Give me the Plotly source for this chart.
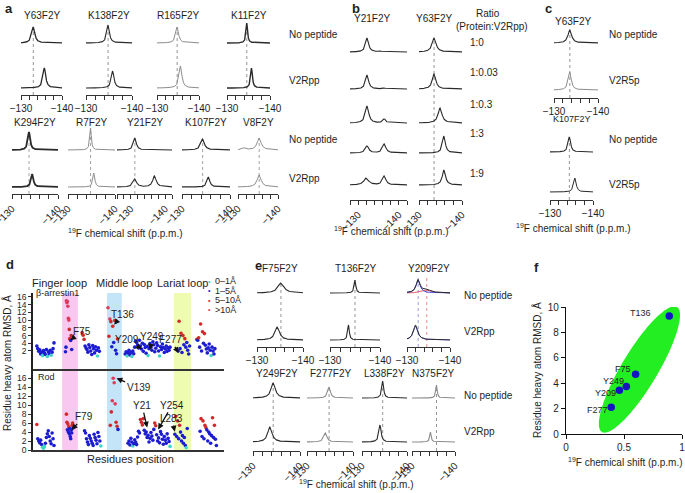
import numpy as np
import plotly.graph_objects as go

# ======================= DATA =======================
# Spectral peaks: (centre in p.p.m., peak intensity, half-width in p.p.m.)
a1_names = ["Y63F2Y", "K138F2Y", "R165F2Y", "K11F2Y"]
a1_free = [[(-133.0, 16, 0.45)], [(-134.8, 18, 0.35)], [(-134.8, 16, 0.4)], [(-134.6, 20, 0.22)]]
a1_bound = [[(-135.7, 20, 0.4)], [(-135.8, 17, 0.35)], [(-135.6, 22, 0.4)], [(-135.7, 20, 0.25)]]

a2_names = ["K294F2Y", "R7F2Y", "Y21F2Y", "K107F2Y", "V8F2Y"]
a2_free = [[(-133.7, 18, 0.3)], [(-134.8, 22, 0.2)], [(-131.2, 12, 0.5)], [(-134.3, 11, 0.45)],
           [(-135.3, 12, 0.6), (-131.5, 2, 0.6)]]
a2_bound = [[(-134.4, 13, 0.3)], [(-135.5, 14, 0.25)], [(-131.2, 8, 0.6), (-136.9, 11, 0.6)],
            [(-135.5, 10, 0.35)], [(-135.3, 12, 0.6)]]

b_ratios = ["1:0", "1:0.03", "1:0.3", "1:3", "1:9"]
b_y21 = [[(-132.2, 14, 0.45), (-135.4, 1, 0.4)], [(-132.2, 14, 0.45), (-136.4, 1, 0.4)],
         [(-132.2, 17, 0.5), (-136.4, 4, 0.4)], [(-132.2, 7, 0.5), (-136.4, 9, 0.5)],
         [(-132.0, 7, 0.7), (-136.4, 9, 0.5)]]
b_y63 = [[(-133.5, 14, 0.55)], [(-133.5, 15, 0.5)], [(-134.9, 15, 0.55)], [(-135.8, 17, 0.4)],
         [(-135.8, 15, 0.45)]]

c_names = ["Y63F2Y", "K107F2Y"]
c_free = [[(-133.6, 13, 0.5)], [(-134.5, 15, 0.35)]]
c_bound = [[(-133.6, 18, 0.4)], [(-135.8, 14, 0.35)]]

e1_names = ["F75F2Y", "T136F2Y", "Y209F2Y"]
e1_free = [[(-135.2, 10, 0.8)], [(-135.0, 13, 0.2)], [(-132.6, 13, 0.55), (-134.6, 3, 1.1)]]
e1_bound = [[(-134.4, 13, 0.6)], [(-133.7, 15, 0.2)], [(-132.0, 15, 0.6)]]
y209_fit_major = [(-132.6, 13, 0.55)]
y209_fit_minor = [(-134.6, 3, 1.1)]
y209_fit_bound = [(-132.0, 14, 0.6)]

e2_names = ["Y249F2Y", "F277F2Y", "L338F2Y", "N375F2Y"]
e2_free = [[(-134.3, 15, 0.55)], [(-134.8, 11, 0.35)], [(-134.6, 17, 0.25)], [(-135.7, 13, 0.2)]]
e2_bound = [[(-133.6, 15, 0.55)], [(-134.0, 9, 0.4)], [(-134.0, 17, 0.3)], [(-134.3, 10, 0.2)]]

# Panel d: residue RMSD clusters (start residue, residue step, RMSD values in Å)
d_top_start = [8, 68, 103, 157, 193, 304, 343]
d_top_step = [2, 1, 2, 2, 2, 2, 2]
d_top_vals = [
    [3.3, 2.6, 1.9, 2.3, 1.2, 1.7, 0.8, 2.1, 1.5, 1.1, 2.4, 0.6, 1.8, 1.3, 2.2, 0.9, 1.7, 2.6, 4.1],
    [1.8, 3.0, 15.0, 14.5, 14.8, 13.6, 10.5, 10.0, 7.6, 5.2, 5.0, 4.7, 6.0, 2.4],
    [6.8, 6.1, 5.0, 3.3, 2.8, 2.4, 1.7, 3.6, 2.9, 2.0, 1.1, 3.4, 2.6, 1.5, 3.1, 2.2, 0.7, 2.8, 1.9],
    [13.2, 5.8, 10.3, 9.6, 3.1, 8.4, 4.2, 9.9, 2.2, 1.3, 5.1],
    [1.2, 1.8, 0.7, 1.5, 2.2, 1.0, 1.6, 0.6, 2.0, 1.3, 3.0, 4.6, 4.2, 3.5, 2.8, 4.8, 3.3, 2.5, 4.0, 1.9,
     3.7, 2.9, 1.4, 3.2, 0.8, 2.6, 3.9, 3.0, 2.2, 4.4, 3.6, 1.8, 2.7, 4.1, 3.4, 2.0, 0.7, 3.1, 2.4, 3.8,
     2.9, 1.6, 2.5, 3.3, 1.9, 2.8, 2.2, 3.0],
    [2.0, 9.7, 2.6, 6.6, 1.6, 6.0, 3.6, 5.2, 3.0, 4.2, 2.2, 1.2, 3.3],
    [5.0, 4.8, 5.4, 3.0, 9.0, 2.0, 7.0, 4.0, 6.5, 3.5, 2.5, 1.5, 2.8, 3.8, 2.2, 0.8, 3.0, 2.0, 1.2, 2.6],
]
d_bot_start = [8, 70, 108, 162, 199, 297, 350]
d_bot_step = [2, 1, 2, 2, 2, 2, 2]
d_bot_vals = [
    [5.7, 2.5, 2.0, 1.6, 2.2, 1.2, 0.6, 0.4, 0.8, 1.5, 2.8, 3.6, 4.3, 3.0, 2.0, 1.4, 3.8, 2.5, 1.0],
    [8.0, 6.2, 4.5, 5.8, 4.0, 5.2, 3.6, 4.8, 3.0, 2.5, 4.4, 3.8, 5.5, 6.0, 4.9],
    [4.3, 3.8, 2.5, 1.8, 1.2, 3.2, 2.6, 2.0, 1.5, 1.0, 3.5, 2.8, 2.2, 1.4, 3.9, 3.0, 2.0, 0.9],
    [5.5, 8.5, 11.0, 16.0, 15.0, 10.3, 6.2, 5.3, 4.6],
    [1.5, 2.0, 1.1, 2.6, 1.8, 0.9, 1.4, 2.3, 1.7, 1.2, 2.9, 4.2, 3.8, 6.8, 6.2, 5.6, 7.0, 4.4, 3.6, 4.0,
     2.8, 3.3, 1.8, 2.6, 3.9, 3.1, 2.2, 4.6, 6.0, 5.4, 3.4, 2.0, 2.7, 1.6, 4.1, 3.5, 2.4, 1.3, 3.0, 2.2,
     1.5, 3.6, 2.6, 1.9, 0.8],
    [3.5, 7.5, 3.0, 6.5, 2.5, 5.5, 4.0, 2.0, 3.2, 1.5, 2.8, 1.0, 0.5, 4.8],
    [4.2, 7.0, 3.0, 6.5, 2.5, 5.5, 5.0, 4.5, 2.0, 4.0, 3.6, 1.5, 3.2, 7.2, 2.8, 5.5, 2.4, 1.0],
]
d_loops = ["Finger loop", "Middle loop", "Lariat loop"]
d_loop_ranges = [(61, 94), (155, 186), (295, 331)]
d_bins = ["0\u20131\u00c5", "1\u20135\u00c5", "5\u201310\u00c5", ">10\u00c5"]
d_top_marks = [("F75", 78, 4.8), ("T136", 170, 8.8), ("Y209", 228, 2.5), ("Y249", 245, 2.3), ("F277", 305, 1.5)]
d_bot_marks = [("V139", 175, 16.0), ("F79", 81, 4.5), ("Y21", 239, 5.0), ("Y254", 262, 4.6), ("L283", 297, 4.1)]

# Panel f
f_labels = ["T136", "F75", "Y249", "Y209", "F277"]
f_shift = [0.89, 0.60, 0.52, 0.46, 0.39]
f_rmsd = [9.3, 4.7, 3.75, 3.45, 2.1]

# ======================= LAYOUT HELPERS =======================
W, H = 685, 493
FONT = "Liberation Sans, Arial, Helvetica, sans-serif"
INK = "#1e1e1e"
fig = go.Figure()
layout = {}
annotations = []
shapes = []
ax_count = [0]


def px_x(p):
    return p / W


def px_y(p):
    return 1 - p / H


def new_axes(x0, x1, ytop, ybot, xa, ya):
    ax_count[0] += 1
    n = ax_count[0]
    s = "" if n == 1 else str(n)
    xa = dict(xa, domain=[px_x(x0), px_x(x1)], anchor="y" + s, fixedrange=True, automargin=False)
    ya = dict(ya, domain=[px_y(ybot), px_y(ytop)], anchor="x" + s, fixedrange=True, automargin=False)
    layout["xaxis" + s] = xa
    layout["yaxis" + s] = ya
    return "x" + s, "y" + s


def text(t, x, y, size=10, anchor="center", color=INK, bold=False, angle=0, vanchor="middle"):
    if bold:
        t = "<b>" + t + "</b>"
    annotations.append(dict(text=t, x=px_x(x), y=px_y(y), xref="paper", yref="paper", showarrow=False,
                            xanchor=anchor, yanchor=vanchor, textangle=angle,
                            font=dict(size=size, color=color, family=FONT)))


def lorentz(x, peaks):
    y = np.zeros_like(x)
    for c, h, w in peaks:
        y = y + h / (1.0 + ((x - c) / w) ** 2)
    return y


def spec_axes(x0, x1, ptop, paxis, xr, rotate):
    hi, lo = xr
    tv = [float(v) for v in np.arange(hi, lo - 0.5, -2)]
    tt = ["\u2212%d" % abs(v) if v in (-130.0, -140.0) else "" for v in tv]
    xa = dict(range=[hi, lo], tickvals=tv, ticktext=tt, ticks="outside", ticklen=4, tickwidth=1,
              tickcolor="#333", showline=True, linecolor="#333", linewidth=1, showgrid=False,
              zeroline=False, tickangle=-45 if rotate else 0, ticklabeloverflow="allow",
              tickfont=dict(size=10, color=INK, family=FONT))
    ya = dict(range=[0, paxis - ptop], visible=False)
    return new_axes(x0, x1, ptop, paxis, xa, ya)


def spectrum_panel(xpx, ptop, paxis, xr, rotate, rows, vlines):
    xa, ya = spec_axes(xpx[0], xpx[1], ptop, paxis, xr, rotate)
    x = np.linspace(xr[1], xr[0], 600)
    for c, ytop_px, col in vlines:
        fig.add_trace(go.Scatter(x=[c, c], y=[0, paxis - ytop_px], mode="lines",
                                 line=dict(color=col, width=0.9, dash="dot"),
                                 xaxis=xa, yaxis=ya, hoverinfo="skip", showlegend=False))
    for peaks, base, col, lw in rows:
        y = (paxis - base) + lorentz(x, peaks)
        fig.add_trace(go.Scatter(x=x, y=y, mode="lines", line=dict(color=col, width=lw),
                                 xaxis=xa, yaxis=ya, hoverinfo="skip", showlegend=False))
    return xa, ya


DARK, GREY = "#2a2a2a", "#8c8c8c"

# ======================= PANEL a =======================
text("a", 3, 8, size=13, bold=True, anchor="left")
a1_x = [(21, 62), (86, 132), (157, 199), (227, 270)]
a1_col = [DARK, DARK, GREY, DARK]
a1_lw = [1.3, 1.1, 1.0, 1.4]
for i, nm in enumerate(a1_names):
    fb, bb = 43, 88
    top_free = fb - a1_free[i][0][1]
    spectrum_panel(a1_x[i], 18, 95, (-130, -140), False,
                   [(a1_free[i], fb, a1_col[i], a1_lw[i]), (a1_bound[i], bb, a1_col[i], a1_lw[i])],
                   [(a1_free[i][0][0], top_free, "#888")])
    text(nm, (a1_x[i][0] + a1_x[i][1]) / 2, 15, size=10)
text("No peptide", 287, 35, anchor="left")
text("V2Rpp", 287, 80, anchor="left")

a2_x = [(12, 58), (68, 115), (117, 172), (182, 230), (238, 278)]
a2_xr = [(-130, -140), (-130, -140), (-126, -142), (-130, -140), (-130, -140)]
a2_col = [DARK, GREY, DARK, DARK, GREY]
a2_lw = [1.8, 1.0, 1.1, 1.2, 1.0]
for i, nm in enumerate(a2_names):
    fb, bb = 150, 187
    top_free = fb - a2_free[i][0][1]
    spectrum_panel(a2_x[i], 125, 194, a2_xr[i], True,
                   [(a2_free[i], fb, a2_col[i], a2_lw[i]), (a2_bound[i], bb, a2_col[i], a2_lw[i])],
                   [(a2_free[i][0][0], top_free, "#999")])
    text(nm, (a2_x[i][0] + a2_x[i][1]) / 2, 122, size=10)
text("No peptide", 287, 140, anchor="left")
text("V2Rpp", 287, 178, anchor="left")
text("<sup>19</sup>F chemical shift (p.p.m.)", 125, 233, size=10)

# ======================= PANEL b =======================
text("b", 350, 8, size=13, bold=True, anchor="left")
b_base = [52, 89, 123, 153, 185]
spectrum_panel((350, 407), 30, 200, (-128, -142), True,
               [(b_y21[k], b_base[k], DARK, 1.1) for k in range(5)], [])
spectrum_panel((419, 462), 30, 200, (-130, -140), True,
               [(b_y63[k], b_base[k], DARK, 1.1) for k in range(5)],
               [(b_y63[0][0][0], b_base[0] - b_y63[0][0][1], "#888")])
text("Y21F2Y", 372, 18)
text("Y63F2Y", 434, 18)
text("Ratio", 488, 14)
text("(Protein:V2Rpp)", 492, 26)
b_label_y = [42, 72, 104, 133, 173]
for k, r in enumerate(b_ratios):
    text(r, 468, b_label_y[k], anchor="left")
text("<sup>19</sup>F chemical shift (p.p.m.)", 392, 231, size=10)

# ======================= PANEL c =======================
text("c", 543, 9, size=13, bold=True, anchor="left")
c_x = [(554, 598), (550, 593)]
c_geo = [(26, 43, 90, 98), (132, 152, 192, 200)]
for i, nm in enumerate(c_names):
    top, fb, bb, axy = c_geo[i]
    spectrum_panel(c_x[i], top, axy, (-130, -140), False,
                   [(c_free[i], fb, DARK, 1.1), (c_bound[i], bb, GREY if i == 0 else DARK, 1.0)],
                   [(c_free[i][0][0], fb - c_free[i][0][1], "#888")])
text("Y63F2Y", 573, 21)
text("K107F2Y", 572, 119, size=9)
text("No peptide", 607, 35, anchor="left")
text("V2R5p", 607, 80, anchor="left")
text("No peptide", 607, 140, anchor="left")
text("V2R5p", 607, 184, anchor="left")
text("<sup>19</sup>F chemical shift (p.p.m.)", 573, 228, size=10)

# ======================= PANEL e =======================
text("e", 253, 265, size=13, bold=True, anchor="left")
e1_x = [(257, 303), (330, 380), (407, 450)]
for i, nm in enumerate(e1_names):
    fb, bb = 293, 340
    if i < 2:
        spectrum_panel(e1_x[i], 272, 347, (-130, -140), False,
                       [(e1_free[i], fb, DARK, 1.1), (e1_bound[i], bb, DARK, 1.1)],
                       [(e1_free[i][0][0], fb - e1_free[i][0][1], "#888")])
    else:
        xa, ya = spectrum_panel(e1_x[i], 272, 347, (-130, -140), False, [],
                                [(y209_fit_major[0][0], fb - 16, "#8f8fe0"),
                                 (y209_fit_minor[0][0], fb - 16, "#e08080")])
        xs = np.linspace(-140, -130, 600)
        for peaks, base, col, lw in [(y209_fit_minor, fb, "#e05050", 0.9),
                                     (y209_fit_major, fb, "#4a4ae8", 1.0),
                                     (y209_fit_bound, bb, "#6a6ae8", 1.0),
                                     (e1_free[i], fb, DARK, 1.0), (e1_bound[i], bb, DARK, 1.0)]:
            fig.add_trace(go.Scatter(x=xs, y=(347 - base) + lorentz(xs, peaks), mode="lines",
                                     line=dict(color=col, width=lw), xaxis=xa, yaxis=ya,
                                     hoverinfo="skip", showlegend=False))
    text(nm, (e1_x[i][0] + e1_x[i][1]) / 2, 268)

e2_x = [(253, 300), (307, 353), (362, 407), (412, 455)]
e2_col = [DARK, GREY, DARK, GREY]
for i, nm in enumerate(e2_names):
    fb, bb = 398, 442
    spectrum_panel(e2_x[i], 378, 451, (-130, -140), True,
                   [(e2_free[i], fb, e2_col[i], 1.1), (e2_bound[i], bb, e2_col[i], 1.1)],
                   [(e2_free[i][0][0], fb - e2_free[i][0][1], "#888")])
    text(nm, (e2_x[i][0] + e2_x[i][1]) / 2, 373)
text("No peptide", 462, 295, anchor="left")
text("V2Rpp", 462, 331, anchor="left")
text("No peptide", 462, 395, anchor="left")
text("V2Rpp", 462, 431, anchor="left")
text("<sup>19</sup>F chemical shift (p.p.m.)", 356, 484, size=10)

# ======================= PANEL d =======================
text("d", 4, 264, size=13, bold=True, anchor="left")
BIN_COL = ["#40d6c6", "#1c1cd0", "#d02a2a", "#dc3c5c"]


def bin_color(v):
    if v < 1:
        return BIN_COL[0]
    if v < 5:
        return BIN_COL[1]
    if v < 10:
        return BIN_COL[2]
    return BIN_COL[3]


def d_axes(ytop, ybot, yr, tv):
    xa = dict(range=[0, 400], showline=True, linecolor="#333", linewidth=2, ticks="",
              showticklabels=False, showgrid=False, zeroline=False)
    ya = dict(range=yr, tickvals=tv, ticktext=[str(v) for v in tv], ticks="outside", ticklen=3,
              tickcolor="#333", showline=True, linecolor="#222", linewidth=1.5, showgrid=False,
              zeroline=False, ticklabeloverflow="allow", tickfont=dict(size=8.5, color=INK, family=FONT))
    return new_axes(33, 224, ytop, ybot, xa, ya)


dxt, dyt = d_axes(293, 369, [-2.67, 17.03], list(range(2, 17, 2)))
dxb, dyb = d_axes(369, 450, [0, 18.08], list(range(0, 17, 2)))

band_cols = ["rgba(248,190,238,0.85)", "rgba(190,226,246,0.9)", "rgba(236,252,170,0.9)"]
for (r0, r1), col in zip(d_loop_ranges, band_cols):
    shapes.append(dict(type="rect", xref=dxt, yref="paper", x0=r0, x1=r1, y0=px_y(450), y1=px_y(293),
                       fillcolor=col, line=dict(width=0), layer="below"))

for starts, steps, vals, xa, ya in [(d_top_start, d_top_step, d_top_vals, dxt, dyt),
                                    (d_bot_start, d_bot_step, d_bot_vals, dxb, dyb)]:
    rx, ry, rc = [], [], []
    for s, st, vv in zip(starts, steps, vals):
        for k, v in enumerate(vv):
            rx.append(s + st * k)
            ry.append(v)
            rc.append(bin_color(v))
    fig.add_trace(go.Scatter(x=rx, y=ry, mode="markers", marker=dict(size=3.6, color=rc),
                             xaxis=xa, yaxis=ya, hoverinfo="skip", showlegend=False, cliponaxis=False))

top_off = [(12, -9), (8, -10), (-15, -10), (2, -13), (-8, -13)]
bot_off = [(22, 9), (12, -13), (-5, -22), (14, -24), (-3, -13)]
for marks, offs, xa, ya in [(d_top_marks, top_off, dxt, dyt), (d_bot_marks, bot_off, dxb, dyb)]:
    for (lab, r, v), (ox, oy) in zip(marks, offs):
        annotations.append(dict(text=lab, x=r, y=v, xref=xa, yref=ya, showarrow=True, ax=ox, ay=oy,
                                arrowhead=2, arrowsize=0.9, arrowwidth=1.3, arrowcolor="#111",
                                standoff=0, font=dict(size=10, color=INK, family=FONT)))

text("Finger loop", 59, 283, size=11)
text("Middle loop", 124, 283, size=11)
text("Lariat loop", 182, 283, size=11)
text("\u03b2-arrestin1", 57, 293, size=9)
text("Rod", 46, 377, size=9)
leg_y = [281, 290.5, 300, 309.5]
for k, lab in enumerate(d_bins):
    text("\u2022", 209, leg_y[k], size=7, color=BIN_COL[k])
    text(lab, 213, leg_y[k], size=9, anchor="left")
text("Residues position", 130, 459, size=11)
text("Residue heavy atom RMSD, \u00c5", 7, 363, size=10, angle=-90)

# ======================= PANEL f =======================
text("f", 532, 267, size=13, bold=True, anchor="left")
fxa = dict(range=[0, 1], tickvals=[0, 0.5, 1], ticktext=["0", "0.5", "1"], ticks="outside", ticklen=4,
           tickcolor="#111", showline=True, linecolor="#111", linewidth=1.3, showgrid=False,
           zeroline=False, ticklabeloverflow="allow", tickfont=dict(size=10, color=INK, family=FONT))
fya = dict(range=[0, 10], tickvals=list(range(0, 11, 2)), ticks="outside", ticklen=4, tickcolor="#111",
           showline=True, linecolor="#111", linewidth=1.3, showgrid=False, zeroline=False,
           ticklabeloverflow="allow", tickfont=dict(size=10, color=INK, family=FONT))
fx, fy = new_axes(566, 682, 307, 434, fxa, fya)

# green confidence ellipse (shape)
ell_c = (0.633, 5.08)
ell_major = (0.3235, 4.92)
ell_minor = (0.133, -0.73)
t = np.linspace(0, 2 * np.pi, 120)
ex = ell_c[0] + ell_major[0] * np.cos(t) + ell_minor[0] * np.sin(t)
ey = ell_c[1] + ell_major[1] * np.cos(t) + ell_minor[1] * np.sin(t)
path = "M " + " L ".join("%.4f,%.4f" % (a, b) for a, b in zip(ex, ey)) + " Z"
shapes.append(dict(type="path", path=path, xref=fx, yref=fy, fillcolor="#22ee22",
                   line=dict(width=0), layer="below"))

fig.add_trace(go.Scatter(x=f_shift, y=f_rmsd, mode="markers", marker=dict(size=7.5, color="#1414c4"),
                         xaxis=fx, yaxis=fy, hoverinfo="skip", showlegend=False, cliponaxis=False))
f_off = [(-29, 3), (-13, 5), (-13, 5), (-14, -3), (-14, -3)]
for lab, xv, yv, (ox, oy) in zip(f_labels, f_shift, f_rmsd, f_off):
    annotations.append(dict(text=lab, x=xv, y=yv, xref=fx, yref=fy, showarrow=False,
                            xshift=ox, yshift=oy, font=dict(size=9, color=INK, family=FONT)))
text("Residue heavy atom RMSD, \u00c5", 537, 370, size=10, angle=-90)
text("<sup>19</sup>F chemical shift (p.p.m.)", 625, 462, size=10)

layout.update(dict(template="none", width=W, height=H, margin=dict(l=0, r=0, t=0, b=0, pad=0),
                   paper_bgcolor="white", plot_bgcolor="rgba(0,0,0,0)", showlegend=False,
                   annotations=annotations, shapes=shapes, font=dict(family=FONT, color=INK),
                   hovermode=False))
fig.update_layout(**layout)
fig.write_html("out.html", config={"displayModeBar": False},
               post_script="document.body.style.margin='0px';document.body.style.padding='0px';"
                           "document.body.style.overflow='hidden';")
